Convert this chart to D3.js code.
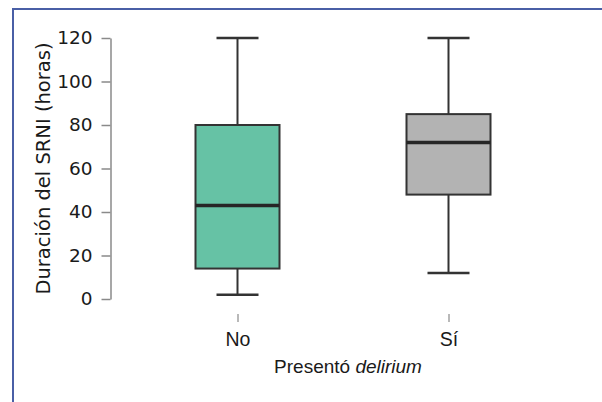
<!DOCTYPE html>
<html>
<head>
<meta charset="utf-8">
<script src="https://cdn.jsdelivr.net/npm/d3@7/dist/d3.min.js"></script>
<style>
  html, body { margin: 0; padding: 0; background: #fff; }
  svg { display: block; }
</style>
</head>
<body>
<svg id="chart" width="602" height="402"></svg>
<script>
// Duration of non-invasive ventilation by delirium status
const categories = ["No", "Sí"];
const whiskerLow = [2, 12];
const q1 = [14, 48];
const median = [43, 72];
const q3 = [80, 85];
const whiskerHigh = [120, 120];
const fills = ["#66c2a5", "#b3b3b3"];
const yTicks = [0, 20, 40, 60, 80, 100, 120];

const svg = d3.select("#chart");

// frame
svg.append("path")
  .attr("d", "M13,402 L13,9 L602,9")
  .attr("fill", "none")
  .attr("stroke", "#4a5fa6")
  .attr("stroke-width", 2);

const y = d3.scaleLinear().domain([0, 120]).range([299, 38]);
const x = d3.scalePoint().domain(categories).range([237.5, 448.5]);
const boxW = 84, capW = 42;

// y axis
const yAxis = svg.append("g")
  .attr("transform", "translate(110.5,0)")
  .call(d3.axisLeft(y).tickValues(yTicks).tickSize(9).tickSizeOuter(0).tickPadding(9));
yAxis.select(".domain").attr("stroke", "#8a8a8a").attr("stroke-width", 1.5);
yAxis.selectAll(".tick line").attr("stroke", "#8a8a8a").attr("stroke-width", 1.5);
yAxis.selectAll(".tick text")
  .attr("fill", "#1a1a1a")
  .style("font-family", "'DejaVu Sans', Verdana, sans-serif")
  .style("font-size", "18.5px");

// x axis (ticks and labels only)
const xAxis = svg.append("g")
  .attr("transform", "translate(0,314)")
  .call(d3.axisBottom(x).tickSize(8).tickSizeOuter(0).tickPadding(10));
xAxis.select(".domain").remove();
xAxis.selectAll(".tick line").attr("stroke", "#8a8a8a").attr("stroke-width", 1.2);
xAxis.selectAll(".tick text")
  .attr("fill", "#1a1a1a")
  .style("font-family", "'Liberation Sans', Arial, sans-serif")
  .style("font-size", "19.5px");

// boxes
const data = categories.map((c, i) => ({
  c, lo: whiskerLow[i], q1: q1[i], med: median[i], q3: q3[i], hi: whiskerHigh[i], fill: fills[i]
}));

const g = svg.append("g");
const boxes = g.selectAll("g.box").data(data).join("g").attr("class", "box");

boxes.append("line")
  .attr("x1", d => x(d.c)).attr("x2", d => x(d.c))
  .attr("y1", d => y(d.hi)).attr("y2", d => y(d.q3))
  .attr("stroke", "#333").attr("stroke-width", 2);
boxes.append("line")
  .attr("x1", d => x(d.c)).attr("x2", d => x(d.c))
  .attr("y1", d => y(d.q1)).attr("y2", d => y(d.lo))
  .attr("stroke", "#333").attr("stroke-width", 2);
boxes.append("line")
  .attr("x1", d => x(d.c) - capW / 2).attr("x2", d => x(d.c) + capW / 2)
  .attr("y1", d => y(d.hi)).attr("y2", d => y(d.hi))
  .attr("stroke", "#333").attr("stroke-width", 2.5);
boxes.append("line")
  .attr("x1", d => x(d.c) - capW / 2).attr("x2", d => x(d.c) + capW / 2)
  .attr("y1", d => y(d.lo)).attr("y2", d => y(d.lo))
  .attr("stroke", "#333").attr("stroke-width", 2.5);
boxes.append("rect")
  .attr("x", d => x(d.c) - boxW / 2)
  .attr("width", boxW)
  .attr("y", d => y(d.q3))
  .attr("height", d => y(d.q1) - y(d.q3))
  .attr("fill", d => d.fill)
  .attr("stroke", "#333").attr("stroke-width", 2);
boxes.append("line")
  .attr("x1", d => x(d.c) - boxW / 2).attr("x2", d => x(d.c) + boxW / 2)
  .attr("y1", d => y(d.med)).attr("y2", d => y(d.med))
  .attr("stroke", "#262626").attr("stroke-width", 3.5);

// axis titles
svg.append("text")
  .attr("transform", "translate(49.5,168.5) rotate(-90)")
  .attr("text-anchor", "middle")
  .attr("fill", "#1a1a1a")
  .style("font-family", "'DejaVu Sans', Verdana, sans-serif")
  .style("font-size", "19.5px")
  .text("Duración del SRNI (horas)");

const xt = svg.append("text")
  .attr("x", 348).attr("y", 373)
  .attr("text-anchor", "middle")
  .attr("fill", "#1a1a1a")
  .style("font-family", "'Liberation Sans', Arial, sans-serif")
  .style("font-size", "19px");
xt.append("tspan").text("Presentó ");
xt.append("tspan").style("font-style", "italic").text("delirium");
</script>
</body>
</html>
